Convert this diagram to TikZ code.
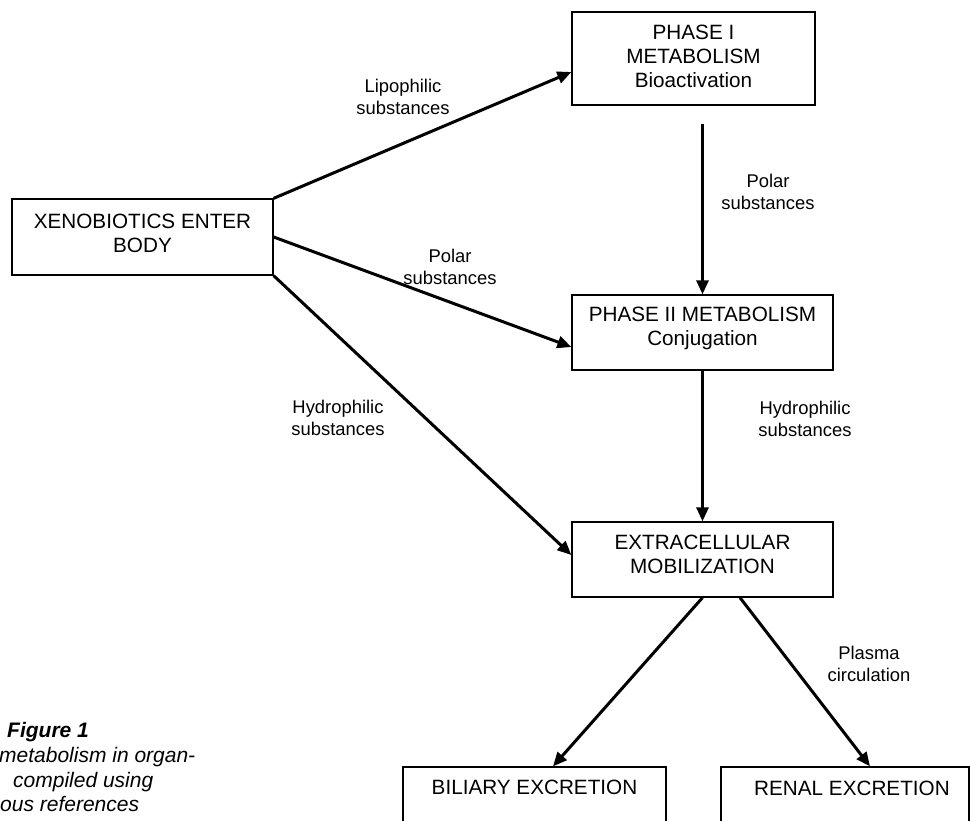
\documentclass[tikz,border=0pt]{standalone}
\usepackage{fontspec}
\setmainfont{Liberation Sans}
\usetikzlibrary{arrows.meta}
\begin{document}
\begin{tikzpicture}[x=1pt,y=-1pt,
  box/.style={draw, line width=1.3pt, inner sep=0pt},
  boxtxt/.style={font=\fontsize{20.7}{24}\selectfont, align=center, inner sep=0pt},
  lbl/.style={font=\fontsize{18.4}{22}\selectfont, align=center, inner sep=0pt},
  captxt/.style={font=\fontsize{21}{25}\selectfont\itshape, anchor=base west, inner sep=0pt},
  captitle/.style={font=\fontsize{21}{25}\selectfont\bfseries\itshape, anchor=base west, inner sep=0pt},
  flow/.style={line width=3pt, -{Triangle[length=14pt,width=12pt]}}]
\useasboundingbox (0,0) rectangle (970,821);
\fill[white] (0,0) rectangle (970,821);
% boxes
\node[box, minimum width=261pt, minimum height=76pt] (xeno) at (142.5,237) {};
\node[box, minimum width=243pt, minimum height=93pt] (p1) at (693.5,58.5) {};
\node[box, minimum width=261pt, minimum height=75pt] (p2) at (702.5,332.5) {};
\node[box, minimum width=261pt, minimum height=75pt] (ext) at (702.5,559.5) {};
\node[box, minimum width=263pt, minimum height=90pt] (bil) at (534.5,812) {};
\node[box, minimum width=248pt, minimum height=90pt] (ren) at (845,812) {};
% box texts
\node[boxtxt] (xenot) at (142.5,233.5) {XENOBIOTICS ENTER\\BODY};
\node[boxtxt] (p1t) at (693.5,56) {PHASE I\\METABOLISM\\Bioactivation};
\node[boxtxt] (p2t) at (702.5,328) {PHASE II METABOLISM\\Conjugation};
\node[boxtxt] (extt) at (702.5,554.5) {EXTRACELLULAR\\MOBILIZATION};
\node[boxtxt] (bilt) at (534.5,787) {BILIARY EXCRETION};
\node[boxtxt] (rent) at (852,788) {RENAL EXCRETION};
% connectors
\path (p1.south -| p2.north) ++(0,18) coordinate (p1out);
\draw[flow] (xeno.north east) -- ([yshift=-13.5pt]p1.west);
\draw[flow] (xeno.east) -- ([yshift=-14.5pt]p2.west);
\draw[flow] (xeno.south east) -- ([yshift=4.5pt]ext.west);
\draw[flow] (p1out) -- (p2.north);
\draw[flow] (p2.south) -- (ext.north);
\draw[flow] (ext.south) -- ([xshift=18.5pt]bil.north);
\draw[flow] ([xshift=37.5pt]ext.south) -- ([xshift=25pt]ren.north);
% labels
\node[lbl] (l1) at (403,97) {Lipophilic\\substances};
\node[lbl] (l2) at (450,267) {Polar\\substances};
\node[lbl] (l3) at (338,418) {Hydrophilic\\substances};
\node[lbl] (l4) at (768,192) {Polar\\substances};
\node[lbl] (l5) at (805,418.5) {Hydrophilic\\substances};
\node[lbl] (l6) at (869,664) {Plasma\\circulation};
% caption
\node[captitle] (c0) at (7,737) {Figure 1};
\node[captxt] (c1) at (-1,762) {metabolism in organ-};
\node[captxt] (c2) at (13,787) {compiled using};
\node[captxt] (c3) at (0,811) {ous references};
\end{tikzpicture}
\end{document}
